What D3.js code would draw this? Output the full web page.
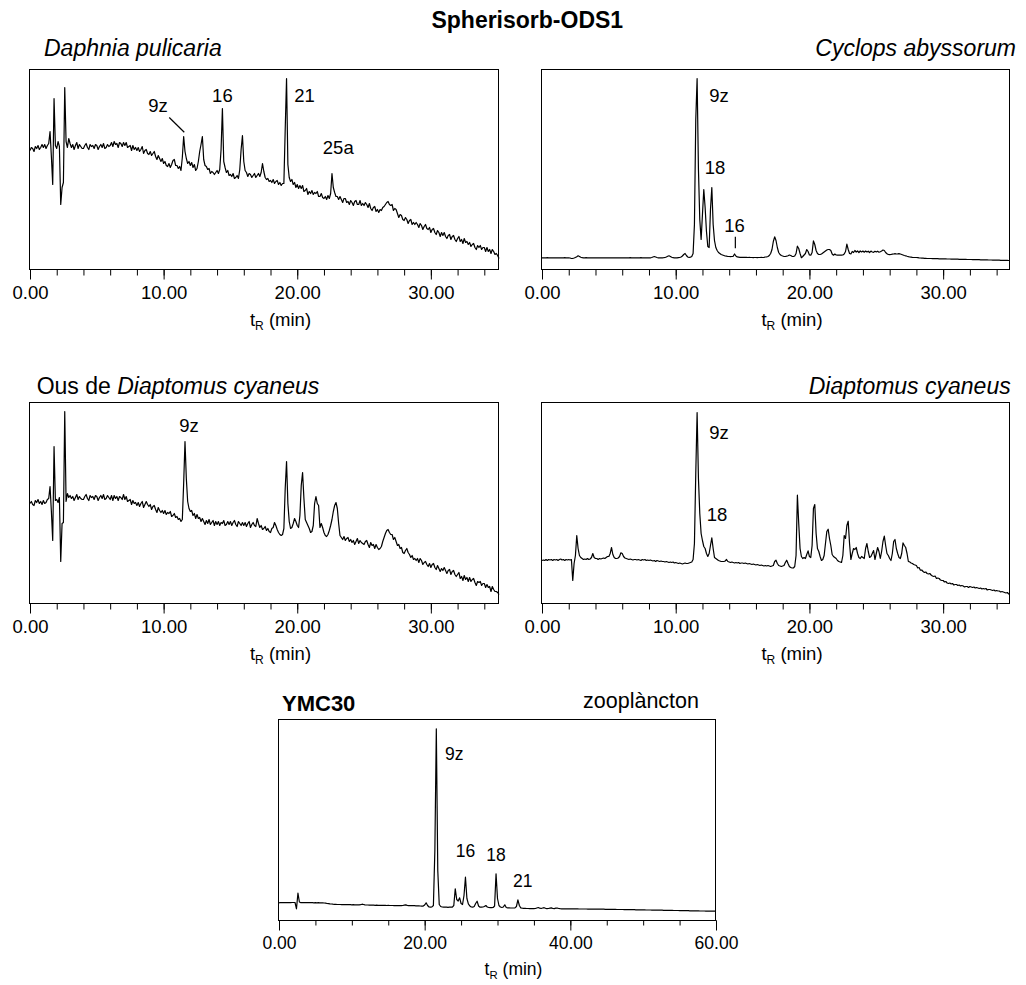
<!DOCTYPE html>
<html>
<head>
<meta charset="utf-8">
<script src="https://cdn.jsdelivr.net/npm/d3@7"></script>
<style>
  body { margin: 0; background: #fff; }
  text { font-family: "Liberation Sans", Arial, Helvetica, sans-serif; fill: #000; }
</style>
</head>
<body>
<script>
// Detector response (arbitrary units, 0-200) sampled every 0.1 min, one row per minute.
const daphniaSignal = [
  119,122,121,118,123,121,124,120,122,125,
  122,125,121,124,126,138,113,85,171,124,
  121,128,123,65,82,87,182,128,122,131,
  126,122,125,120,124,127,121,125,123,121,
  121,124,126,122,120,125,123,124,121,125,
  124,120,123,125,122,126,121,122,125,123,
  124,127,123,128,125,126,122,127,126,123,
  127,124,127,122,123,124,119,124,120,122,
  119,122,118,120,123,116,119,120,116,115,
  118,114,116,118,113,110,114,111,108,111,
  106,108,104,103,106,102,105,109,110,104,
  104,101,103,99,112,133,118,111,106,108,
  104,107,102,105,99,101,108,118,125,133,
  110,104,103,100,101,96,98,97,95,97,
  99,96,100,120,161,108,102,97,99,94,
  95,93,96,91,92,94,91,100,120,134,
  108,99,97,93,96,95,92,94,96,92,
  94,96,93,97,106,98,92,90,91,88,
  89,87,90,86,88,89,85,87,84,86,
  86,140,191,105,92,88,90,85,87,82,
  85,81,84,81,84,78,79,81,75,78,
  76,79,75,77,76,78,73,73,76,72,
  71,73,70,74,71,76,96,82,77,73,
  73,70,73,70,67,71,71,67,68,65,
  69,67,64,68,69,65,65,69,64,66,
  64,67,65,62,66,61,59,62,63,58,
  60,57,60,59,62,63,65,67,68,65,
  64,65,59,61,60,56,52,55,54,50,
  49,52,50,46,49,50,45,47,45,47,
  45,42,46,44,40,43,45,41,40,42,
  37,40,41,37,35,39,37,33,37,34,
  37,33,31,34,35,30,33,34,30,28,
  31,33,28,30,26,31,27,28,25,27,
  23,25,26,22,20,24,22,24,20,22,
  22,18,22,18,20,16,20,18,15,16,
  14,11
];

const cyclopsSignal = [
  11.7,11.7,11.6,11.7,11.8,11.7,11.7,11.6,11.7,11.7,
  11.7,11.6,11.7,11.7,11.6,11.7,11.7,11.8,11.7,11.6,
  11.7,11.5,11,11.2,11.5,12,12.8,13.7,13,12.2,
  11.8,11.7,11.7,11.8,11.7,11.6,11.7,11.7,11.6,11.7,
  11.7,11.6,11.7,11.7,11.6,11.7,11.7,11.7,11.6,11.7,
  11.7,11.6,11.7,11.7,11.6,11.7,11.7,11.6,11.7,11.7,
  11.7,11.6,11.7,11.7,11.6,11.7,11.8,11.7,11.6,11.7,
  11.7,11.6,11.7,11.7,11.8,11.7,11.6,11.7,11.7,11.6,
  11.7,11.7,12,12.5,13,12.5,12,11.7,11.6,11.7,
  11.7,11.8,12,12.5,13.2,13.7,13,12.2,11.8,11.7,
  11.7,11.6,11.8,12,12.5,13.5,15,16,14,12.5,
  12,12.3,13,16,45,150,191,100,50,30,
  55,80,62,38,23,22,60,82,45,29,
  22,19,17,16,15,14.5,14,13.5,13.3,13,
  13,12.8,13,13.2,15.5,13.5,12.6,12.4,12.2,12.2,
  12.2,12.1,12.2,12.1,12,12.1,12,12,11.9,12,
  12,11.9,12,12,12.1,12,12.2,12.5,12.7,13,
  14,16,20,28,32.7,29,22,17,15,14,
  13.5,13.2,13,13.3,13.8,14.5,14,13.2,13,13.5,
  16,23.3,21,16,11.8,13,14.5,16,20,18,
  14.5,14.3,17,28.6,25,19,16,15,15,15.5,
  16.5,17.5,18.5,19.5,20,20,19,15.5,14.3,15.5,
  14.5,14.3,14.3,14.3,14.4,14.5,15.5,18,25.3,20,
  16,15.5,18,17,19,17.5,18.5,17,18.5,17.5,
  18.5,17.3,18.5,17.5,18.3,17,18.4,17.5,17.2,18.2,
  17.5,18.3,17.3,17.8,18.5,19.5,19,17,15.8,15,
  14.8,15,15.3,15.5,15.8,15.5,15.6,15.8,15.5,15,
  14.5,14,13.7,13.2,12.8,12.5,12.3,12.1,12,12,
  12,11.8,11.6,11.5,11.4,11.3,11.2,11.1,11,11,
  11,11,10.9,10.9,10.8,10.8,10.8,10.7,10.7,10.7,
  10.6,10.6,10.6,10.5,10.5,10.5,10.4,10.4,10.4,10.3,
  10.3,10.3,10.2,10.2,10.2,10.1,10.1,10.1,10,10,
  10,10,9.9,9.9,9.9,9.8,9.8,9.8,9.7,9.7,
  9.7,9.6,9.6,9.6,9.5,9.5,9.5,9.4,9.4,9.4,
  9.3,9.3,9.3,9.2,9.2,9.2,9.1,9.1,9.1,9,
  9
];

const eggsSignal = [
  100,102,99,98,103,101,104,100,102,99,
  103,100,101,104,105,117,92,63,157,103,
  104,101,106,42,80,81,192,102,110,106,
  108,105,107,103,106,109,104,107,105,104,
  104,107,109,105,103,108,106,107,104,108,
  107,103,106,108,105,109,104,105,108,106,
  104,108,103,108,105,107,103,107,106,104,
  109,104,107,102,103,104,99,103,100,101,
  98,101,97,100,102,96,99,102,99,97,
  99,94,97,98,94,91,96,93,91,93,
  90,93,89,91,90,92,87,88,90,86,
  87,84,85,82,84,120,162,125,102,95,
  92,93,88,90,85,89,85,86,82,85,
  82,79,83,80,84,79,81,83,78,82,
  79,82,78,81,80,83,78,79,82,79,
  82,78,81,83,79,77,82,80,78,81,
  78,81,77,80,82,76,79,81,78,77,
  85,80,76,78,74,75,77,73,75,72,
  71,75,76,81,78,74,71,69,68,69,
  75,115,142,100,82,75,76,80,85,82,
  78,76,88,118,131,105,84,81,78,75,
  71,72,78,100,107,100,98,76,80,76,
  71,68,67,69,73,78,84,92,98,101,
  95,80,68,66,64,67,63,65,66,62,
  64,61,63,59,62,65,60,63,61,60,
  59,62,63,59,56,61,58,59,55,59,
  56,54,55,57,62,66,70,73,74,71,
  69,69,64,66,62,58,59,55,56,51,
  50,53,55,51,49,46,48,44,45,43,
  45,41,45,43,39,41,42,39,37,40,
  36,39,40,36,34,38,35,32,35,33,
  36,33,30,33,34,29,32,33,29,27,
  29,31,25,27,23,28,24,26,22,26,
  22,24,25,21,18,22,21,22,18,20,
  20,16,19,16,17,12,17,14,12,12,
  11,9
];

const diaptomusSignal = [
  43,43.5,43,44,43,44,43.5,44,43,44,
  43.5,44,43,44,44.5,43.5,44,43,44,43.5,
  44,43.5,44,23,40,48,68,55,48,46,
  45,44,44.5,44,45,44,44.5,46,50,46,
  45,45,44,45,44.5,45,45.5,45,46,47,
  47,50,56,49,46,45,45,45.5,47,50.7,
  50,47,45.5,45,44.5,44,44.5,44,43.5,44,
  44,43.5,44,43.5,43,44,43.5,44,43,43.5,
  43,43.5,43,42.5,43,42,43,42.5,42,42.5,
  42,42,41.5,42,41.5,41,41.5,41,41.5,40.5,
  41,40.5,40,40.5,40,39.5,40,40.5,40,40,
  40.5,41,41.5,44,60,130,191,125,90,70,
  63,57,55,50,47,50,58,65.7,55,46,
  45,44,43,42.5,42,42,42,42.5,44,42,
  41.5,41,41.5,41,40.5,41,40.5,41,40,40.5,
  40.5,40,40.5,40,39.5,40,39.5,39,39.5,39,
  38.5,39,38.5,38,38.5,38,37.5,38,37.5,38,
  37.5,37,37.5,38,42,43.3,40,38,37.5,37,
  37.5,38,41,43.3,40,37,36,35.6,35.5,37,
  48,108.3,80,55,47,45,46,45,49,52.6,
  47,46,58,95,99,70,55,52,47,43,
  44,48,60,72,74.3,65,58,49,47,46,
  45,43,42,41.5,41,48,68,65,78,82.3,
  60,44,50,55,54,56,50,46,45,47,
  46,45,55,60,52,46,47,50,53,44,
  50,56,52,45,52,62,67.3,58,50,48,
  45,43,50,62,64,55,50,46,45,50,
  60.6,58,56,50,42,41.6,40.5,40,39,38.5,
  38,35.5,36,33.3,33.5,32,31,31.5,30,29.5,
  30,28.5,27.5,27,27.5,25,25.5,25,23.5,23,
  23,21.5,22,20.5,20,20.5,19.5,20,18.5,19,
  19,18,18.5,17.5,18,17.5,16.5,17,17,16,
  17,16.5,16,16.5,15.5,16,15.5,15,15.5,14.5,
  15,14.5,15,13.5,14,14,13.5,13,13.5,12.5,
  13,12.5,12.5,11.5,12,11.5,11,10.5,11,9.5,
  9.3
];

// YMC30 column run, sampled every 0.2 min, one row per two minutes.
const zooplanktonSignal = [
  17.7,18,17.8,18,17.9,18,17.8,18,17.9,18,
  18,18,11.7,27.3,18.5,17.8,18,17.9,18,17.8,
  17.8,17.9,17.8,17.8,17.7,17.8,17.7,17.8,17.7,17.6,
  17.6,17.5,17.3,17,16.8,16.6,16.5,16.3,16.2,16.1,
  16,16,16,15.9,16,15.8,15.9,15.8,15.8,15.8,
  15.7,15.8,15.7,15.6,15.7,15.6,15.8,16.3,16,15.6,
  15.5,15.5,15.4,15.4,15.3,15.3,15.2,15.3,15.2,15.2,
  15.1,15.2,15.1,15.1,15,15.1,15,15,15,14.9,
  15,14.9,15,14.9,14.9,15,15.3,15.6,15.1,14.9,
  14.8,14.9,14.8,14.8,14.7,14.7,14.6,14.5,14.3,14.4,
  15.5,17.7,15,13.5,13.3,13.6,15,70,191.7,50,
  16,14,13.5,13.4,13.3,13.3,13.2,13.3,13.3,13.4,
  15,31.7,21,19.5,22.7,17,16,25,43.3,22,
  16.7,14.5,13.5,13.3,14,17,19.3,14.5,13.3,13.3,
  13.5,14,15,13.5,13,12.8,12.8,13,14.5,46.7,
  22,15,13.5,13,13.5,15.7,13,12.6,12.6,12.5,
  12.5,12.5,12.6,14,20.7,15,12.5,12.3,12.2,12.2,
  12,12,11.9,11.9,11.8,11.9,12,12.5,13,12.3,
  12,12.5,12.8,12.2,11.9,12,12.3,12.6,12,11.9,
  12.3,12.5,12,11.8,11.7,11.7,11.7,11.7,11.7,11.7,
  11.7,11.7,11.6,11.6,11.6,11.6,11.5,11.5,11.5,11.5,
  11.5,11.5,11.4,11.4,11.4,11.4,11.3,11.3,11.3,11.3,
  11.3,11.3,11.3,11.3,11.2,11.2,11.2,11.2,11.2,11.1,
  11.1,11.1,11,11,11,11,11,10.9,10.9,10.9,
  10.9,10.8,10.8,10.8,10.8,10.7,10.7,10.7,10.7,10.6,
  10.6,10.6,10.5,10.5,10.5,10.5,10.4,10.4,10.4,10.4,
  10.3,10.3,10.3,10.3,10.2,10.2,10.2,10.2,10.1,10.1,
  10.1,10,10,10,10,9.9,9.9,9.9,9.8,9.8,
  9.8,9.8,9.7,9.7,9.7,9.7,9.6,9.6,9.6,9.5,
  9.5,9.5,9.5,9.4,9.4,9.4,9.3,9.3,9.3,9.3,
  9.3
];

// Sampling interval (min) of each run
const sampleStep = [0.1, 0.1, 0.1, 0.1, 0.2];

// Axis tick labels
const spherisorbTicks = [0, 10, 20, 30];
const ymcTicks = [0, 20, 40, 60];

// Annotated peaks: name and retention time (min)
const daphniaPeaks = [["9z", 11.5], ["16", 14.4], ["21", 19.2], ["25a", 22.6]];
const cyclopsPeaks = [["9z", 11.6], ["18", 12.7], ["16", 14.4]];
const eggsPeaks = [["9z", 11.6]];
const diaptomusPeaks = [["9z", 11.6], ["18", 12.7]];
const zooplanktonPeaks = [["9z", 21.6], ["16", 25.6], ["18", 29.8], ["21", 32.8]];

const svg = d3.select("body").append("svg")
  .attr("width", 1026).attr("height", 985);

const FONT_TICK = 18.5;

function drawPanel(p) {
  const x = d3.scaleLinear().domain([0, p.tMax]).range([p.left, p.left + p.width]);
  const y = d3.scaleLinear().domain([0, 200]).range([p.bottom, p.bottom - 200]);
  const g = svg.append("g");

  // minor ticks
  const minor = d3.axisBottom(x)
    .tickValues(d3.range(0, p.tMax + 1e-6, p.minorStep))
    .tickSize(p.minorLen).tickFormat("");
  g.append("g").attr("transform", `translate(0,${p.bottom})`).call(minor)
    .call(a => a.select(".domain").remove());

  // major ticks with labels
  const major = d3.axisBottom(x)
    .tickValues(p.ticks).tickSize(10).tickPadding(p.tickPad)
    .tickFormat(d3.format(".2f"));
  const ax = g.append("g").attr("transform", `translate(0,${p.bottom})`).call(major);
  ax.select(".domain").remove();
  ax.selectAll("text")
    .attr("font-family", '"Liberation Sans", Arial, sans-serif')
    .attr("font-size", p.tickFont);

  // frame
  g.append("rect")
    .attr("x", p.left - 0.5).attr("y", p.top)
    .attr("width", p.width).attr("height", p.bottom - p.top)
    .attr("fill", "none").attr("stroke", "#000").attr("stroke-width", 1);

  // chromatogram trace
  const line = d3.line()
    .x((d, i) => x(i * p.step))
    .y(d => y(d));
  g.append("path").datum(p.signal)
    .attr("d", line)
    .attr("fill", "none")
    .attr("stroke", "#000")
    .attr("stroke-width", 1.2)
    .attr("stroke-linejoin", "round");

  // peak labels
  p.peaks.forEach(([name, t], i) => {
    const v = p.signal[Math.round(t / p.step)];
    const px = x(t), py = y(v);
    const o = p.labelOffsets[i];
    g.append("text")
      .attr("x", px + o[0]).attr("y", py + o[1])
      .attr("text-anchor", o[2] || "middle")
      .attr("font-size", p.peakFont)
      .text(name);
    if (o[3]) {
      g.append("line")
        .attr("x1", px + o[3][0]).attr("y1", py + o[3][1])
        .attr("x2", px + o[3][2]).attr("y2", py + o[3][3])
        .attr("stroke", "#000").attr("stroke-width", 1.2);
    }
  });

  // axis title t_R (min)
  const lab = g.append("text")
    .attr("x", p.left + p.width / 2 + 16).attr("y", p.bottom + p.axisTitleGap)
    .attr("text-anchor", "middle")
    .attr("font-size", p.tickFont);
  lab.append("tspan").text("t");
  lab.append("tspan").attr("font-size", p.tickFont * 0.65).attr("dy", 4).text("R");
  lab.append("tspan").attr("dy", -4).text(" (min)");
}

drawPanel({
  signal: daphniaSignal, step: sampleStep[0], tMax: 35.1,
  left: 30, width: 469, top: 69.5, bottom: 269.5,
  ticks: spherisorbTicks, minorStep: 2, minorLen: 6, tickPad: 6.3, tickFont: FONT_TICK,
  axisTitleGap: 56.5, peakFont: 18.5, peaks: daphniaPeaks,
  labelOffsets: [
    [-25.7, -25, "middle", [-14.4, -19, 0.6, -4.2]],
    [0, -6.8],
    [7.7, 23.2, "start"],
    [6.3, -19.5]
  ]
});

drawPanel({
  signal: cyclopsSignal, step: sampleStep[1], tMax: 35.0,
  left: 542, width: 468, top: 69.5, bottom: 269.5,
  ticks: spherisorbTicks, minorStep: 2, minorLen: 6, tickPad: 6.3, tickFont: FONT_TICK,
  axisTitleGap: 56.5, peakFont: 18.5, peaks: cyclopsPeaks,
  labelOffsets: [
    [12.2, 23.2, "start"],
    [3.2, -13.5],
    [0, -21.7, "middle", [0.8, -17.3, 0.8, -5.7]]
  ]
});

drawPanel({
  signal: eggsSignal, step: sampleStep[2], tMax: 35.1,
  left: 30, width: 469, top: 402.5, bottom: 603.5,
  ticks: spherisorbTicks, minorStep: 2, minorLen: 6, tickPad: 6.3, tickFont: FONT_TICK,
  axisTitleGap: 56.5, peakFont: 18.5, peaks: eggsPeaks,
  labelOffsets: [[4, -9.8]]
});

drawPanel({
  signal: diaptomusSignal, step: sampleStep[3], tMax: 35.0,
  left: 542, width: 468, top: 402.5, bottom: 603.5,
  ticks: spherisorbTicks, minorStep: 2, minorLen: 6, tickPad: 6.3, tickFont: FONT_TICK,
  axisTitleGap: 56.5, peakFont: 18.5, peaks: diaptomusPeaks,
  labelOffsets: [[12.2, 26.8, "start"], [5.2, -16.8]]
});

drawPanel({
  signal: zooplanktonSignal, step: sampleStep[4], tMax: 60,
  left: 279, width: 437, top: 719.5, bottom: 920.5,
  ticks: ymcTicks, minorStep: 5, minorLen: 5, tickPad: 5.9, tickFont: 17.5,
  axisTitleGap: 54.5, peakFont: 17.5, peaks: zooplanktonPeaks,
  labelOffsets: [[8.7, 31, "start"], [0, -20], [0, -13.3], [4.9, -13.3]]
});

// headings
svg.append("text").attr("x", 527.3).attr("y", 28.3)
  .attr("text-anchor", "middle").attr("font-size", 23).attr("font-weight", "bold")
  .text("Spherisorb-ODS1");

svg.append("text").attr("x", 44).attr("y", 56)
  .attr("font-size", 23).attr("font-style", "italic")
  .text("Daphnia pulicaria");

svg.append("text").attr("x", 1016).attr("y", 56)
  .attr("text-anchor", "end").attr("font-size", 23).attr("font-style", "italic")
  .text("Cyclops abyssorum");

const ous = svg.append("text").attr("x", 36.7).attr("y", 394).attr("font-size", 23);
ous.append("tspan").text("Ous de ");
ous.append("tspan").attr("font-style", "italic").text("Diaptomus cyaneus");

svg.append("text").attr("x", 1010.7).attr("y", 394)
  .attr("text-anchor", "end").attr("font-size", 23).attr("font-style", "italic")
  .text("Diaptomus cyaneus");

svg.append("text").attr("x", 282).attr("y", 711)
  .attr("font-size", 22).attr("font-weight", "bold")
  .text("YMC30");

svg.append("text").attr("x", 699).attr("y", 707.7)
  .attr("text-anchor", "end").attr("font-size", 21.5)
  .text("zooplàncton");
</script>
</body>
</html>
